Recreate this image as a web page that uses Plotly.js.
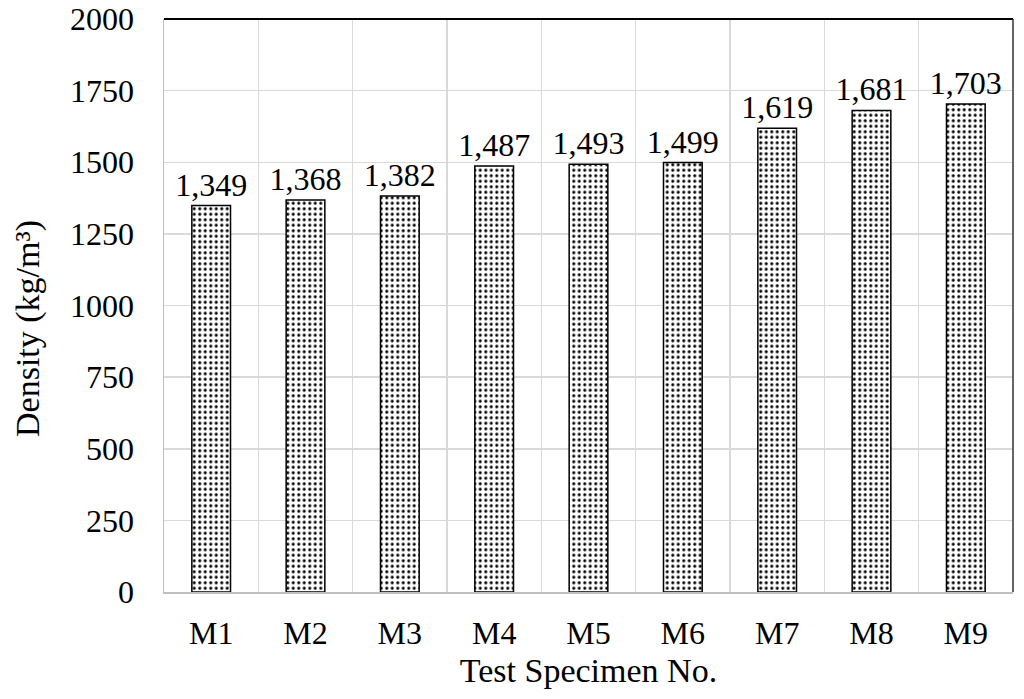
<!DOCTYPE html>
<html>
<head>
<meta charset="utf-8">
<script src="https://cdn.plot.ly/plotly-3.0.1.min.js"></script>
<style>html,body{margin:0;padding:0;background:#fff;}#chart{width:1024px;height:699px;}</style>
</head>
<body>
<div id="chart"></div>
<script>
const specimens = ["M1","M2","M3","M4","M5","M6","M7","M8","M9"];
const density = [1349,1368,1382,1487,1493,1499,1619,1681,1703];
const yTicks = [0,250,500,750,1000,1250,1500,1750,2000];

const FONT = "Liberation Serif, Times New Roman, serif";

const trace = {
  type: "bar",
  x: specimens,
  y: density,
  marker: {
    color: "white",
    line: {color: "black", width: 1.5},
    pattern: {shape: ".", size: 5.5, solidity: 0.25, fgcolor: "black", bgcolor: "white", fillmode: "replace"}
  },
  texttemplate: "%{y:,}",
  textposition: "outside",
  constraintext: "none",
  textfont: {family: FONT, size: 32, color: "black"},
  cliponaxis: false,
  hoverinfo: "none"
};

const layout = {
  width: 1024, height: 699,
  margin: {l: 164, r: 11, t: 19, b: 107},
  paper_bgcolor: "white", plot_bgcolor: "white",
  font: {family: FONT, size: 32, color: "black"},
  showlegend: false,
  bargap: 0.59,
  xaxis: {
    type: "category",
    tickson: "boundaries",
    showgrid: true, gridcolor: "#d9d9d9", gridwidth: 1.5,
    showline: true, linecolor: "#bfbfbf", linewidth: 1.5,
    ticks: "", ticklabelstandoff: 12,
    tickfont: {family: FONT, size: 32, color: "black"},
    title: {text: "Test Specimen No.", font: {family: FONT, size: 34, color: "black"}, standoff: 8},
    fixedrange: true
  },
  yaxis: {
    range: [0, 2000],
    tickvals: yTicks,
    ticktext: yTicks.map(String),
    showgrid: true, gridcolor: "#d9d9d9", gridwidth: 1.5,
    zeroline: false,
    showline: true, linecolor: "#bfbfbf", linewidth: 1.5,
    ticks: "", ticklabelstandoff: 22,
    tickfont: {family: FONT, size: 32, color: "black"},
    fixedrange: true
  },
  annotations: [{
    text: "Density (kg/m³)",
    xref: "paper", yref: "paper",
    x: (28 - 164) / 849, y: (592 - 329) / 573,
    xanchor: "center", yanchor: "middle",
    textangle: -90, showarrow: false,
    font: {family: FONT, size: 34, color: "black"}
  }],
  shapes: [
    {type: "line", xref: "paper", yref: "paper", x0: 0, x1: 1, y0: 1, y1: 1, line: {color: "black", width: 2}},
    {type: "line", xref: "paper", yref: "paper", x0: 1, x1: 1, y0: 0, y1: 1, line: {color: "#333", width: 1.5}}
  ]
};

Plotly.newPlot("chart", [trace], layout, {staticPlot: true, displayModeBar: false});
</script>
</body>
</html>
